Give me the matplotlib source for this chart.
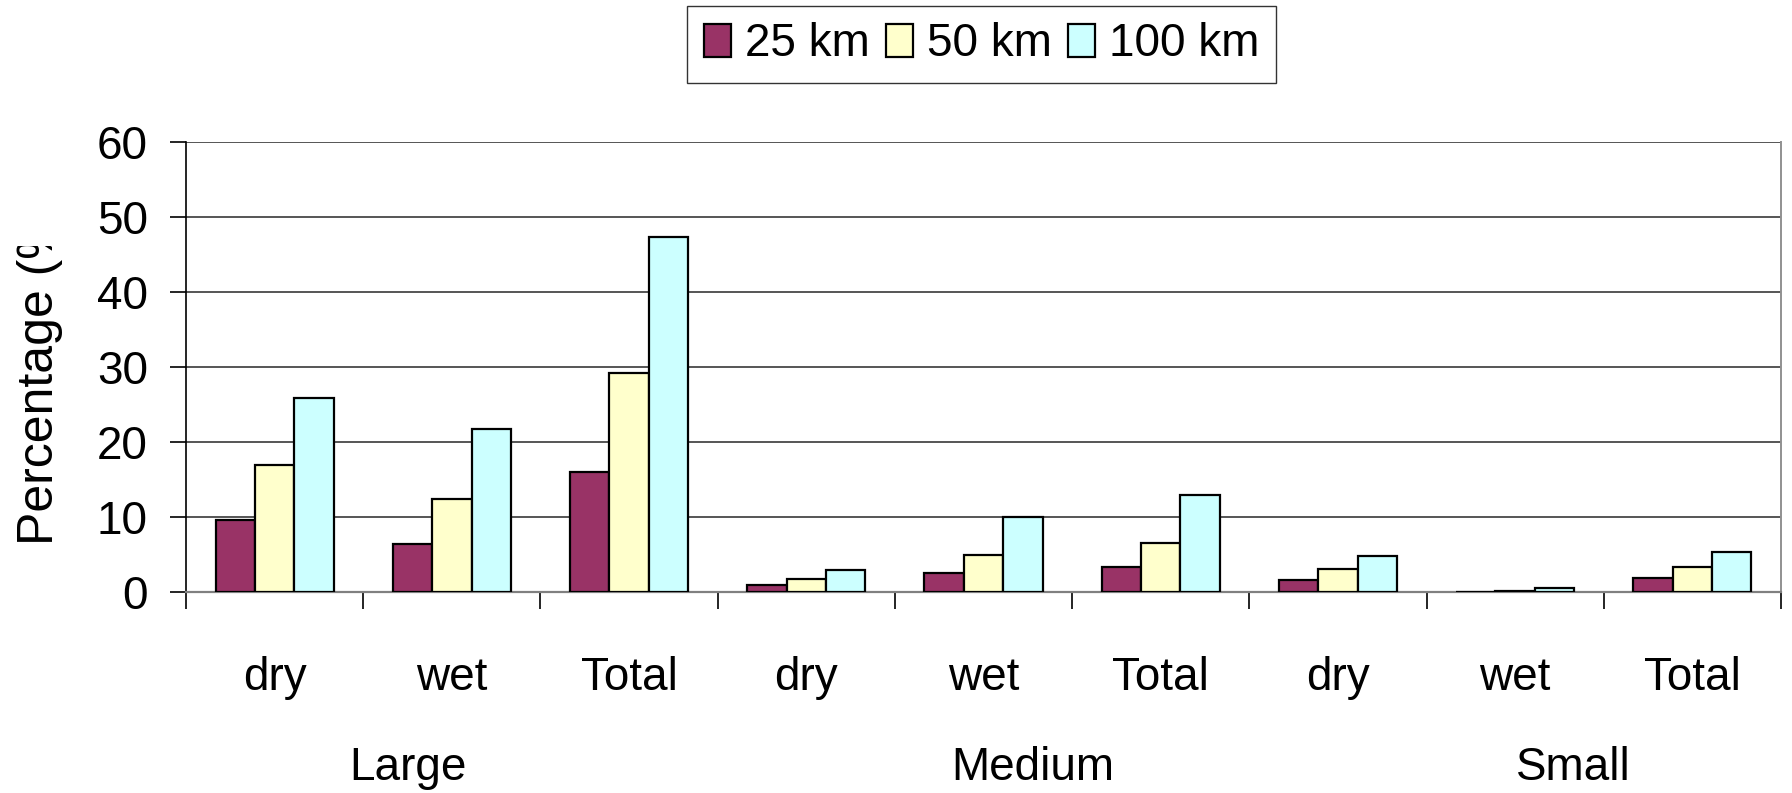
import matplotlib
matplotlib.use("Agg")
import matplotlib.pyplot as plt
import numpy as np
from matplotlib.transforms import Bbox, TransformedBbox, blended_transform_factory

plt.rcParams['font.family'] = ['Liberation Sans', 'DejaVu Sans']

# Data
groups = ["Large", "Medium", "Small"]
subcats = ["dry", "wet", "Total"]
series_names = ["25 km", "50 km", "100 km"]
vals_25km = [9.6, 6.4, 16.0, 0.9, 2.6, 3.4, 1.6, 0.0, 1.9]
vals_50km = [16.9, 12.4, 29.2, 1.8, 4.9, 6.6, 3.1, 0.2, 3.4]
vals_100km = [25.9, 21.7, 47.3, 2.9, 10.0, 12.9, 4.8, 0.5, 5.4]
colors = ["#993366", "#FFFFCC", "#CCFFFF"]

W, H = 1792, 793
FS = 33
fig = plt.figure(figsize=(W / 100, H / 100), dpi=100)
ax = fig.add_axes([186 / W, 1 - 592 / H, (1781 - 186) / W, (592 - 142) / H])

n_cat = len(groups) * len(subcats)
x = np.arange(n_cat)
bw = 1 / 4.5
for j, (vals, col, name) in enumerate(zip([vals_25km, vals_50km, vals_100km], colors, series_names)):
    ax.bar(x + (j - 1) * bw, vals, width=bw, color=col, edgecolor="black",
           linewidth=1.6, label=name, zorder=3)

ax.set_xlim(-0.5, n_cat - 0.5)
ax.set_ylim(0, 60)
ax.set_yticks(np.arange(0, 61, 10))
ax.yaxis.grid(True, color="#555555", linewidth=1.4, zorder=0)
ax.set_axisbelow(True)

# category boundary ticks, no labels
ax.set_xticks(np.arange(-0.5, n_cat, 1.0))
ax.set_xticklabels([])
ax.tick_params(axis="x", which="major", direction="out", length=12, width=1.2, color="black")
ax.tick_params(axis="y", direction="out", length=11.5, width=1.2, pad=16, labelsize=FS)

ax.spines["top"].set_visible(False)
ax.spines["left"].set_color("black")
ax.spines["left"].set_linewidth(1.2)
ax.spines["bottom"].set_color("#808080")
ax.spines["bottom"].set_linewidth(1.6)
ax.spines["right"].set_color("#909090")
ax.spines["right"].set_linewidth(1.4)

# subcategory and group labels below the axis
tr = blended_transform_factory(ax.transData, fig.transFigure)
labels = subcats * len(groups)
for i, lab in enumerate(labels):
    ax.text(i, 1 - 690 / H, lab, transform=tr, ha="center", va="baseline",
            fontsize=FS, clip_on=False)
group_pos = [1 - 0.25, 4 + 0.28, 7 + 0.33]
for gx, g in zip(group_pos, groups):
    ax.text(gx, 1 - 780 / H, g, transform=tr, ha="center", va="baseline",
            fontsize=FS, clip_on=False)

# y label, cut off at the top
yl = fig.text(40 / W, 1 - 545 / H, "Percentage (%)", rotation=90, ha="center",
              va="bottom", fontsize=36)
clip = TransformedBbox(Bbox([[0, 0], [0.2, (H - 246) / H]]), fig.transFigure)
yl.set_clip_box(clip)
yl.set_clip_on(True)

leg = fig.legend(loc="center", bbox_to_anchor=((682 + 1281) / 2 / W, 1 - 44.5 / H),
                 ncol=3, fontsize=FS, frameon=True, fancybox=False,
                 handlelength=0.6, handleheight=0.75, handletextpad=0.3,
                 columnspacing=0.35, borderpad=0.36, borderaxespad=0)
leg.get_frame().set_edgecolor("black")
leg.get_frame().set_linewidth(1.0)

fig.savefig("out.png", dpi=100)
